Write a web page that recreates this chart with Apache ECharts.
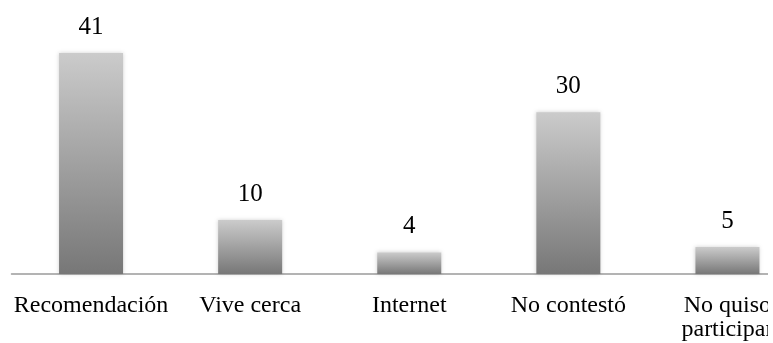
<!DOCTYPE html>
<html>
<head>
<meta charset="utf-8">
<script src="https://cdn.jsdelivr.net/npm/echarts@6/dist/echarts.min.js"></script>
<style>
  html, body { margin: 0; padding: 0; background: #fff; overflow: hidden; width: 773px; height: 343px; }
  /* the plot runs past the right edge, so the last label is cut off */
  #frame { width: 768px; height: 343px; overflow: hidden; }
  #chart { width: 807px; height: 343px; }
</style>
</head>
<body>
<div id="frame"><div id="chart"></div></div>
<script>
// Motivo de elección: categorías y número de respuestas
const categories = ['Recomendación', 'Vive cerca', 'Internet', 'No contestó', 'No quiso\nparticipar'];
const values = [41, 10, 4, 30, 5];

const chart = echarts.init(document.getElementById('chart'));
const font = '"Liberation Serif", "Times New Roman", serif';

chart.setOption({
  animation: false,
  grid: { left: 11.5, top: 31.4, right: 0, bottom: 69, containLabel: false },
  xAxis: {
    type: 'category',
    data: categories,
    axisLine: { show: true, lineStyle: { color: '#9a9a9a', width: 1.5 } },
    axisTick: { show: false },
    axisLabel: {
      interval: 0,
      margin: 20,
      color: '#000',
      fontFamily: font,
      fontSize: 24,
      lineHeight: 24
    }
  },
  yAxis: {
    type: 'value',
    min: 0,
    max: 45,
    show: false,
    splitLine: { show: false }
  },
  series: [{
    type: 'bar',
    data: values,
    barWidth: 64,
    itemStyle: {
      color: new echarts.graphic.LinearGradient(0, 0, 0, 1, [
        { offset: 0, color: '#cbcbcb' },
        { offset: 1, color: '#777777' }
      ]),
      shadowColor: 'rgba(0,0,0,0.18)',
      shadowBlur: 4
    },
    label: {
      show: true,
      position: 'top',
      distance: 13,
      color: '#000',
      fontFamily: font,
      fontSize: 25
    }
  }]
});
</script>
</body>
</html>
